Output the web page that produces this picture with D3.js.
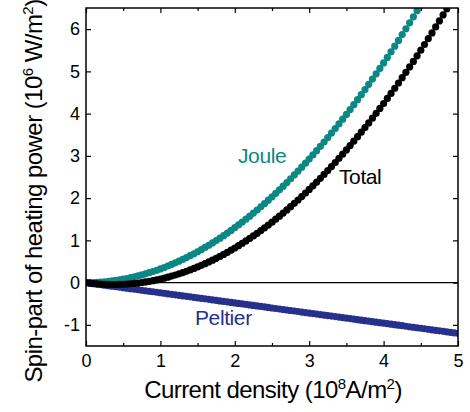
<!DOCTYPE html>
<html>
<head>
<meta charset="utf-8">
<script src="https://cdn.jsdelivr.net/npm/d3@7"></script>
<style>
  body { margin: 0; background: #fff; }
  svg { display: block; font-family: "Liberation Sans", Arial, sans-serif; }
</style>
</head>
<body>
<div id="chart"></div>
<script>
// Current density steps (10^8 A/m^2), every 0.05
const current = d3.range(0, 101).map((k) => +(k * 0.05).toFixed(2));

// Spin-part of heating power (10^6 W/m^2)
const joule = [
    0, 0.001, 0.003, 0.007, 0.013, 0.020, 0.029, 0.040, 0.052, 0.066,
    0.081, 0.098, 0.117, 0.137, 0.159, 0.183, 0.208, 0.235, 0.263, 0.293,
    0.325, 0.358, 0.393, 0.430, 0.468, 0.508, 0.549, 0.592, 0.637, 0.683,
    0.731, 0.781, 0.832, 0.885, 0.939, 0.995, 1.053, 1.112, 1.173, 1.236,
    1.300, 1.366, 1.433, 1.502, 1.573, 1.645, 1.719, 1.795, 1.872, 1.951,
    2.031, 2.113, 2.197, 2.282, 2.369, 2.458, 2.548, 2.640, 2.733, 2.828,
    2.925, 3.023, 3.123, 3.225, 3.328, 3.433, 3.539, 3.647, 3.757, 3.868,
    3.981, 4.096, 4.212, 4.330, 4.449, 4.570, 4.693, 4.817, 4.943, 5.071,
    5.200, 5.331, 5.463, 5.597, 5.733, 5.870, 6.009, 6.150, 6.292, 6.436,
    6.581
];

const total = [
    0, -0.011, -0.021, -0.029, -0.035, -0.040, -0.043, -0.044, -0.044, -0.042,
    -0.039, -0.034, -0.027, -0.019, -0.009, 0.003, 0.016, 0.031, 0.047, 0.065,
    0.085, 0.106, 0.129, 0.154, 0.180, 0.208, 0.237, 0.268, 0.301, 0.335,
    0.371, 0.409, 0.448, 0.489, 0.531, 0.575, 0.621, 0.668, 0.717, 0.768,
    0.820, 0.874, 0.929, 0.986, 1.045, 1.105, 1.167, 1.231, 1.296, 1.363,
    1.431, 1.501, 1.573, 1.646, 1.721, 1.798, 1.876, 1.956, 2.037, 2.120,
    2.205, 2.291, 2.379, 2.469, 2.560, 2.653, 2.747, 2.843, 2.941, 3.040,
    3.141, 3.244, 3.348, 3.454, 3.561, 3.670, 3.781, 3.893, 4.007, 4.123,
    4.240, 4.359, 4.479, 4.601, 4.725, 4.850, 4.977, 5.106, 5.236, 5.368,
    5.501, 5.636, 5.773, 5.911, 6.051, 6.193, 6.336, 6.481, 6.627
];

const peltier = [
    0, -0.012, -0.024, -0.036, -0.048, -0.060, -0.072, -0.084, -0.096, -0.108,
    -0.120, -0.132, -0.144, -0.156, -0.168, -0.180, -0.192, -0.204, -0.216, -0.228,
    -0.240, -0.252, -0.264, -0.276, -0.288, -0.300, -0.312, -0.324, -0.336, -0.348,
    -0.360, -0.372, -0.384, -0.396, -0.408, -0.420, -0.432, -0.444, -0.456, -0.468,
    -0.480, -0.492, -0.504, -0.516, -0.528, -0.540, -0.552, -0.564, -0.576, -0.588,
    -0.600, -0.612, -0.624, -0.636, -0.648, -0.660, -0.672, -0.684, -0.696, -0.708,
    -0.720, -0.732, -0.744, -0.756, -0.768, -0.780, -0.792, -0.804, -0.816, -0.828,
    -0.840, -0.852, -0.864, -0.876, -0.888, -0.900, -0.912, -0.924, -0.936, -0.948,
    -0.960, -0.972, -0.984, -0.996, -1.008, -1.020, -1.032, -1.044, -1.056, -1.068,
    -1.080, -1.092, -1.104, -1.116, -1.128, -1.140, -1.152, -1.164, -1.176, -1.188,
    -1.200
];

const xTicks = [0, 1, 2, 3, 4, 5];
const xMinorTicks = [0.5, 1.5, 2.5, 3.5, 4.5];
const yTicks = [-1, 0, 1, 2, 3, 4, 5, 6];

const series = [
    { name: 'Joule', values: joule, color: '#0b8784', label: [238, 163] },
    { name: 'Peltier', values: peltier, color: '#27318d', label: [195, 325] },
    { name: 'Total', values: total, color: '#000000', label: [339, 184] }
];

const width = 470;
const height = 412;
const margin = { top: 8, right: 12, bottom: 66, left: 86 };
const innerW = width - margin.left - margin.right;
const innerH = height - margin.top - margin.bottom;

const x = d3.scaleLinear().domain([0, 5]).range([0, innerW]);
const y = d3.scaleLinear().domain([-1.5, 6.5]).range([innerH, 0]);

const svg = d3.select('#chart')
    .append('svg')
    .attr('width', width)
    .attr('height', height);

svg.append('defs').append('clipPath')
    .attr('id', 'plot-clip')
    .append('rect')
    .attr('width', innerW)
    .attr('height', innerH);

const g = svg.append('g').attr('transform', `translate(${margin.left},${margin.top})`);

// zero line
g.append('line')
    .attr('x1', 0).attr('x2', innerW)
    .attr('y1', y(0)).attr('y2', y(0))
    .attr('stroke', '#000').attr('stroke-width', 1.3);

const plot = g.append('g').attr('clip-path', 'url(#plot-clip)');

series.forEach((s) => {
    plot.append('g')
        .selectAll('circle')
        .data(s.values.map((v, i) => [current[i], v]))
        .join('circle')
        .attr('cx', (d) => x(d[0]))
        .attr('cy', (d) => y(d[1]))
        .attr('r', 3.6)
        .attr('fill', s.color);
});

series.forEach((s) => {
    svg.append('text')
        .attr('x', s.label[0])
        .attr('y', s.label[1])
        .attr('fill', s.color)
        .attr('font-size', 21)
        .attr('letter-spacing', -0.4)
        .text(s.name);
});

// axes, ticks pointing inward
const styleAxis = (sel) => {
    sel.select('.domain').remove();
    sel.selectAll('line').attr('stroke', '#000').attr('stroke-width', 1.2);
    sel.selectAll('text').attr('fill', '#000').attr('font-size', 18)
        .attr('font-family', '"Liberation Sans", Arial, sans-serif');
};

g.append('g')
    .attr('transform', `translate(0,${innerH})`)
    .call(d3.axisBottom(x).tickValues(xTicks).tickSize(-5).tickPadding(8).tickFormat((d) => String(d)))
    .call(styleAxis);
g.append('g')
    .attr('transform', `translate(0,${innerH})`)
    .call(d3.axisBottom(x).tickValues(xMinorTicks).tickSize(-3).tickFormat(''))
    .call(styleAxis);
g.append('g')
    .call(d3.axisTop(x).tickValues(xTicks).tickSize(-5).tickFormat(''))
    .call(styleAxis);
g.append('g')
    .call(d3.axisTop(x).tickValues(xMinorTicks).tickSize(-3).tickFormat(''))
    .call(styleAxis);
g.append('g')
    .call(d3.axisLeft(y).tickValues(yTicks).tickSize(-5).tickPadding(6).tickFormat((d) => String(d)))
    .call(styleAxis);
g.append('g')
    .attr('transform', `translate(${innerW},0)`)
    .call(d3.axisRight(y).tickValues(yTicks).tickSize(-5).tickFormat(''))
    .call(styleAxis);

g.append('rect')
    .attr('width', innerW)
    .attr('height', innerH)
    .attr('fill', 'none')
    .attr('stroke', '#000')
    .attr('stroke-width', 1.5);

// axis titles
const xTitle = svg.append('text')
    .attr('x', 273)
    .attr('y', 398)
    .attr('text-anchor', 'middle')
    .attr('font-size', 24)
    .attr('letter-spacing', -0.55);
xTitle.append('tspan').text('Current density (10');
xTitle.append('tspan').attr('dy', -9).attr('font-size', 15).text('8');
xTitle.append('tspan').attr('dy', 9).text('A/m');
xTitle.append('tspan').attr('dy', -9).attr('font-size', 15).text('2');
xTitle.append('tspan').attr('dy', 9).text(')');

const yTitle = svg.append('text')
    .attr('transform', 'translate(42,191) rotate(-90)')
    .attr('text-anchor', 'middle')
    .attr('font-size', 24)
    .attr('letter-spacing', -0.55);
yTitle.append('tspan').text('Spin-part of heating power (10');
yTitle.append('tspan').attr('dy', -9).attr('font-size', 15).text('6');
yTitle.append('tspan').attr('dy', 9).text(' W/m');
yTitle.append('tspan').attr('dy', -9).attr('font-size', 15).text('2');
yTitle.append('tspan').attr('dy', 9).text(')');
</script>
</body>
</html>
